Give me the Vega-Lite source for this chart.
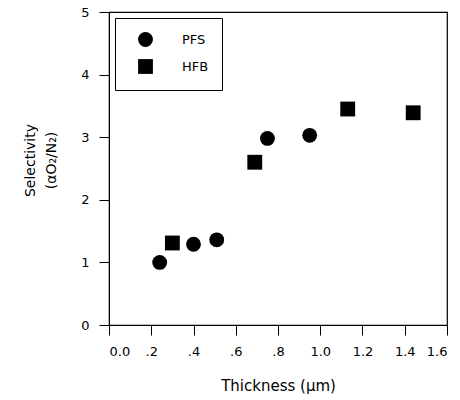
{
  "$schema": "https://vega.github.io/schema/vega-lite/v6.json",
  "width": 338,
  "height": 313,
  "autosize": {"type": "none"},
  "padding": {"left": 109, "top": 12, "right": 13, "bottom": 75},
  "background": "white",
  "config": {
    "font": "DejaVu Sans",
    "view": {"stroke": "black", "strokeWidth": 1.2},
    "axis": {
      "grid": false,
      "domainColor": "black",
      "tickColor": "black",
      "labelColor": "black",
      "titleColor": "black",
      "labelFont": "DejaVu Sans",
      "titleFont": "DejaVu Sans",
      "labelFontSize": 13,
      "titleFontSize": 14,
      "titleFontWeight": "normal",
      "tickSize": 10,
      "labelPadding": 10
    }
  },
  "data": {
    "values": [
      {"thickness": 0.24, "selectivity": 1.0, "membrane": "PFS"},
      {"thickness": 0.30, "selectivity": 1.31, "membrane": "HFB"},
      {"thickness": 0.40, "selectivity": 1.29, "membrane": "PFS"},
      {"thickness": 0.51, "selectivity": 1.36, "membrane": "PFS"},
      {"thickness": 0.69, "selectivity": 2.6, "membrane": "HFB"},
      {"thickness": 0.75, "selectivity": 2.98, "membrane": "PFS"},
      {"thickness": 0.95, "selectivity": 3.03, "membrane": "PFS"},
      {"thickness": 1.13, "selectivity": 3.45, "membrane": "HFB"},
      {"thickness": 1.44, "selectivity": 3.39, "membrane": "HFB"}
    ]
  },
  "mark": {"type": "point", "filled": true, "color": "black", "opacity": 1, "size": 220},
  "encoding": {
    "x": {
      "field": "thickness",
      "type": "quantitative",
      "scale": {"domain": [0, 1.6], "nice": false, "zero": false},
      "axis": {
        "values": [0, 0.2, 0.4, 0.6, 0.8, 1.0, 1.2, 1.4, 1.6],
        "labelExpr": "datum.value == 0 ? '0.0' : (datum.value < 1 ? replace(format(datum.value, '.1f'), '0.', '.') : format(datum.value, '.1f'))",
        "title": "Thickness (µm)",
        "titleFontSize": 15,
        "titlePadding": 20
      }
    },
    "y": {
      "field": "selectivity",
      "type": "quantitative",
      "scale": {"domain": [0, 5], "nice": false},
      "axis": {
        "values": [0, 1, 2, 3, 4, 5],
        "title": ["Selectivity", "(αO₂/N₂)"],
        "titleLineHeight": 21,
        "titlePadding": 22,
        "titleY": 148
      }
    },
    "shape": {
      "field": "membrane",
      "type": "nominal",
      "scale": {"domain": ["PFS", "HFB"], "range": ["circle", "square"]},
      "legend": {
        "title": null,
        "orient": "top-left",
        "offset": 6,
        "strokeColor": "black",
        "fillColor": "white",
        "padding": 13,
        "rowPadding": 6,
        "symbolSize": 220,
        "symbolFillColor": "black",
        "symbolStrokeColor": "black",
        "symbolOffset": 9,
        "labelFontSize": 13,
        "labelFont": "DejaVu Sans",
        "labelColor": "black",
        "labelOffset": 28
      }
    }
  }
}
